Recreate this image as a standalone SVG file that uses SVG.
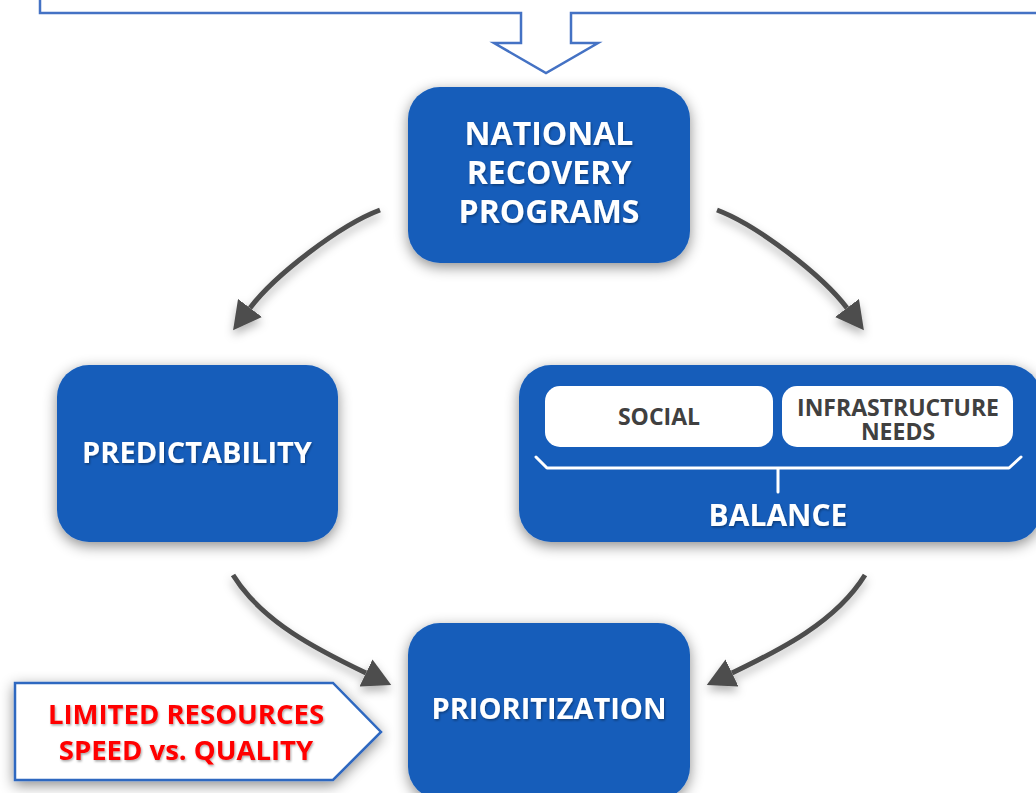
<svg xmlns="http://www.w3.org/2000/svg" width="1036" height="793" viewBox="0 0 1036 793">
  <defs>
    <filter id="boxShadow" x="-20%" y="-20%" width="140%" height="150%">
      <feDropShadow dx="0" dy="4" stdDeviation="7" flood-color="#000" flood-opacity="0.45"/>
    </filter>
    <filter id="lineShadow" x="-30%" y="-30%" width="160%" height="160%">
      <feDropShadow dx="0" dy="5" stdDeviation="5" flood-color="#000" flood-opacity="0.3"/>
    </filter>
    <filter id="textShadow" x="-10%" y="-30%" width="120%" height="160%">
      <feDropShadow dx="1" dy="1.5" stdDeviation="1.2" flood-color="#000" flood-opacity="0.35"/>
    </filter>
    <marker id="head" viewBox="0 -15 28 30" refX="0" refY="0" markerWidth="28" markerHeight="30" markerUnits="userSpaceOnUse" orient="auto">
      <path d="M0,-15 L28,0 L0,15 Z" fill="#4d4d4d"/>
    </marker>
    <style>
      .box { fill: #155dba; filter: url(#boxShadow); }
      .label { font-family: "Open Sans", "Liberation Sans", sans-serif; font-weight: 700; fill: #fff; text-anchor: middle; filter: url(#textShadow); }
      .pill { fill: #fff; }
      .pill-text { font-family: "Open Sans", "Liberation Sans", sans-serif; font-weight: 700; fill: #404040; text-anchor: middle; }
      .conn { fill: none; stroke: #4d4d4d; stroke-width: 5; marker-end: url(#head); }
      .note { font-family: "Open Sans", "Liberation Sans", sans-serif; font-weight: 700; fill: #ff0000; text-anchor: middle; filter: url(#textShadow); }
    </style>
  </defs>

  <rect width="1036" height="793" fill="#fff"/>

  <!-- banner outline with its downward block arrow -->
  <g id="banner">
    <path d="M40,-10 L40,13 L521,13 L521,43 L494,43 L546,73 L598,43 L571,43 L571,13 L1045,13 L1045,-10 Z" fill="#fff" stroke="#4472c4" stroke-width="2.5" stroke-linejoin="miter"/>
  </g>

  <!-- curved connectors -->
  <g id="connectors" filter="url(#lineShadow)">
    <path class="conn" d="M380,210 C340,225 275,275 250,308"/>
    <path class="conn" d="M717,210 C757,225 822,275 847,308"/>
    <path class="conn" d="M233,575 C262,622 318,650 366,673"/>
    <path class="conn" d="M865,575 C836,622 780,650 732,673"/>
  </g>

  <g id="national-recovery-programs">
    <rect class="box" x="408" y="87" width="282" height="176" rx="32"/>
    <text class="label" font-size="32" x="549" y="145">NATIONAL</text>
    <text class="label" font-size="32" x="549" y="184">RECOVERY</text>
    <text class="label" font-size="32" x="549" y="223">PROGRAMS</text>
  </g>

  <g id="predictability">
    <rect class="box" x="57" y="365" width="281" height="177" rx="32"/>
    <text class="label" font-size="29" x="197" y="463">PREDICTABILITY</text>
  </g>

  <g id="balance">
    <rect class="box" x="519" y="365" width="522" height="177" rx="32"/>
    <rect class="pill" x="545" y="386" width="228" height="61" rx="15"/>
    <rect class="pill" x="782" y="386" width="231" height="61" rx="15"/>
    <text class="pill-text" font-size="23" x="659" y="425">SOCIAL</text>
    <text class="pill-text" font-size="23" x="898" y="416">INFRASTRUCTURE<tspan x="898" dy="24">NEEDS</tspan></text>
    <path d="M536,457 L547,468 L1009,468 L1021,457 M778,468 L778,492" fill="none" stroke="#fff" stroke-width="3" stroke-linecap="round" stroke-linejoin="round"/>
    <text class="label" font-size="30" x="778" y="526">BALANCE</text>
  </g>

  <g id="prioritization">
    <rect class="box" x="408" y="623" width="282" height="176" rx="32"/>
    <text class="label" font-size="29" x="549" y="719">PRIORITIZATION</text>
  </g>

  <g id="constraints">
    <polygon points="15,683 333,683 381,732 333,780 15,780" fill="#fff" stroke="#2e68c0" stroke-width="2.5" filter="url(#boxShadow)"/>
    <text class="note" font-size="27.5" x="186" y="724">LIMITED RESOURCES</text>
    <text class="note" font-size="27.5" x="186" y="760">SPEED vs. QUALITY</text>
  </g>
</svg>
